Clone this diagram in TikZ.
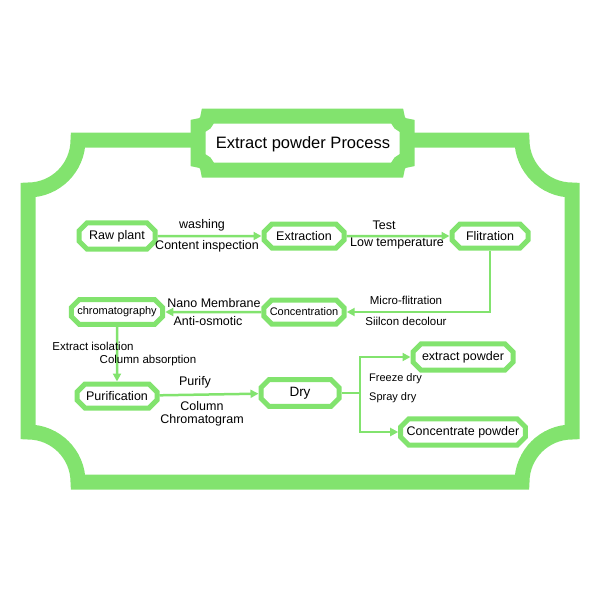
\documentclass[tikz,border=0pt]{standalone}
\usepackage{fontspec}
\setmainfont{Liberation Sans}
\usetikzlibrary{shapes.misc,arrows.meta}
\definecolor{gr}{HTML}{82E36E}
\begin{document}
\begin{tikzpicture}[x=1pt,y=-1pt,
 box/.style={chamfered rectangle,chamfered rectangle xsep=4pt,chamfered rectangle ysep=4pt,draw=gr,line width=5pt,fill=white,minimum height=24pt,inner xsep=2pt,font=\fontsize{12.5}{13}\selectfont},
 arr/.style={draw=gr,line width=2.5pt,-{Triangle[length=8pt,width=8pt]}},
 lab/.style={font=\fontsize{12.5}{13}\selectfont,inner sep=1pt}]
\useasboundingbox (0,0) rectangle (600,600);
\draw[gr,line width=15pt] (78,140) -- (522,140) arc[start angle=180,end angle=90,radius=50]
 -- (572,432) arc[start angle=270,end angle=180,radius=50]
 -- (78,482) arc[start angle=0,end angle=-90,radius=50]
 -- (28,190) arc[start angle=90,end angle=0,radius=50] -- cycle;
\draw[gr,line width=15pt,fill=white] (208,116) -- (397,116) arc[start angle=180,end angle=90,radius=10]
 -- (407,160) arc[start angle=270,end angle=180,radius=10]
 -- (208,170) arc[start angle=0,end angle=-90,radius=10]
 -- (198,126) arc[start angle=90,end angle=0,radius=10] -- cycle;
\node[font=\fontsize{16.5}{18}\selectfont] (title) at (303,144) {Extract powder Process};
\node[box,minimum width=76pt] (raw) at (117,236) {Raw plant};
\node[box,minimum width=80pt] (ext) at (304,236) {Extraction};
\node[box,minimum width=76pt] (fil) at (490,236) {Flitration};
\node[box,minimum width=80pt,font=\fontsize{11}{12}\selectfont] (chr) at (117,312) {chromatography};
\node[box,minimum width=80pt,font=\fontsize{11}{12}\selectfont] (con) at (304,312) {Concentration};
\node[box,minimum width=80pt] (pur) at (117,396) {Purification};
\node[box,minimum width=78pt,font=\fontsize{13.5}{14}\selectfont] (dry) at (300,393) {Dry};
\node[box,minimum width=100pt] (ep) at (463,357) {extract powder};
\node[box,minimum width=100pt] (cp) at (463,432) {Concentrate powder};
\coordinate (c1) at (490,312);
\coordinate (sp) at (360,393);
\draw[arr] (raw) -- (ext);
\draw[arr] (ext) -- (fil);
\draw[arr] (fil.south) -- (c1) -- (con.east);
\draw[arr] (con) -- (chr);
\draw[arr] (chr) -- (pur);
\draw[arr] (pur) -- (dry);
\draw[draw=gr,line width=2.5pt] (dry.east) -- (sp);
\draw[arr] (sp) |- (ep.west);
\draw[arr] (sp) |- (cp.west);
\node[lab] at (202,225) {washing};
\node[lab] at (207,246) {Content inspection};
\node[lab] at (384,225) {Test};
\node[lab] at (397,243) {Low temperature};
\node[lab,font=\fontsize{11.5}{12}\selectfont] at (406,300) {Micro-flitration};
\node[lab,font=\fontsize{11.5}{12}\selectfont] at (406,321) {Siilcon decolour};
\node[lab] at (214,303) {Nano Membrane};
\node[lab] at (208,321) {Anti-osmotic};
\node[lab,font=\fontsize{11.5}{12}\selectfont] at (93,346) {Extract isolation};
\node[lab,font=\fontsize{11.5}{12}\selectfont] at (148,361) {Column absorption};
\node[lab] at (195,382) {Purify};
\node[lab] at (202,406) {Column};
\node[lab] at (202,420) {Chromatogram};
\node[lab,anchor=west,font=\fontsize{11}{12}\selectfont] at (368,379) {Freeze dry};
\node[lab,anchor=west,font=\fontsize{11}{12}\selectfont] at (368,398) {Spray dry};
\end{tikzpicture}
\end{document}
